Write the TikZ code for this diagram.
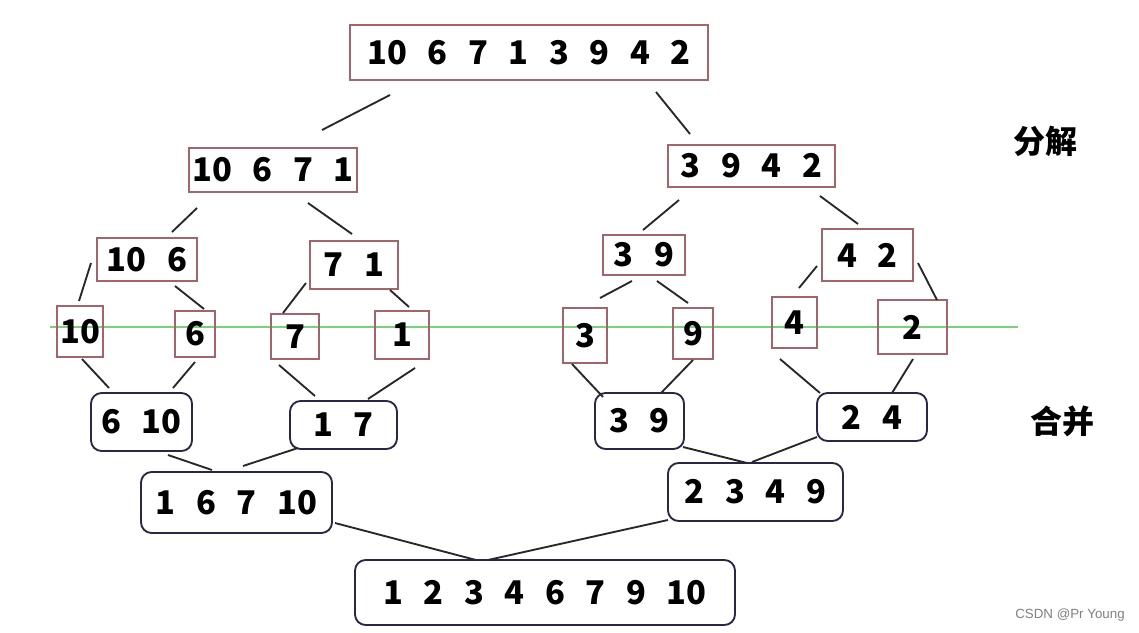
\documentclass[tikz,border=0pt]{standalone}
\usepackage{fontspec}
\setmainfont{Noto Sans CJK SC}
\newfontfamily\numfont{Noto Sans CJK SC}[WordSpace=2.75]
\newfontfamily\markfont{Liberation Sans}
\definecolor{splitc}{RGB}{165,100,105}
\definecolor{mergec}{RGB}{40,40,70}
\definecolor{linec}{RGB}{40,40,40}
\definecolor{greenc}{RGB}{120,210,120}
\newcommand\lnk[6]{\draw[link] ([shift={(#2,#3)}]#1.center) -- ([shift={(#5,#6)}]#4.center);}
\begin{document}
\begin{tikzpicture}[x=0.75pt,y=-0.75pt,
  splitbox/.style={draw=splitc,line width=1.3pt,inner sep=0pt,font=\numfont\bfseries\fontsize{24.5}{28}\selectfont},
  mergebox/.style={draw=mergec,line width=1.4pt,rounded corners=8pt,inner sep=0pt,font=\numfont\bfseries\fontsize{24.5}{28}\selectfont},
  link/.style={draw=linec,line width=1.4pt},
  cjklabel/.style={font=\bfseries\fontsize{24}{28}\selectfont,inner sep=0pt}]
\useasboundingbox (0,0) rectangle (1139,632);
\fill[white] (0,0) rectangle (1139,632);
% green line
\draw[greenc,line width=1.3pt] (50,327) -- (1018,327);
% split boxes
\node[splitbox,minimum width=268.5pt,minimum height=41.25pt] (top) at (529,52.5) {10 6 7 1 3 9 4 2};
\node[splitbox,minimum width=126pt,minimum height=33pt] (L) at (273,170) {10 6 7 1};
\node[splitbox,minimum width=125.25pt,minimum height=31.5pt] (R) at (751.5,166) {3 9 4 2};
\node[splitbox,minimum width=75pt,minimum height=32.25pt] (LL) at (147,259.5) {10 6};
\node[splitbox,minimum width=66pt,minimum height=36pt] (LR) at (354,265) {7 1};
\node[splitbox,minimum width=61.5pt,minimum height=30pt] (RL) at (644,255) {3 9};
\node[splitbox,minimum width=68.25pt,minimum height=39pt] (RR) at (867.5,255) {4 2};
\node[splitbox,minimum width=34.5pt,minimum height=38.25pt] (a) at (80,331.5) {10};
\node[splitbox,minimum width=30pt,minimum height=34.5pt] (b) at (195,334) {6};
\node[splitbox,minimum width=36pt,minimum height=33.75pt] (c) at (295,336.5) {7};
\node[splitbox,minimum width=40.5pt,minimum height=36pt] (d) at (402,335) {1};
\node[splitbox,minimum width=33pt,minimum height=41.25pt] (e) at (585,335.5) {3};
\node[splitbox,minimum width=30pt,minimum height=38.25pt] (f) at (693,333.5) {9};
\node[splitbox,minimum width=33.75pt,minimum height=38.25pt] (g) at (794.5,322.5) {4};
\node[splitbox,minimum width=51.75pt,minimum height=40.5pt] (h) at (912.5,327) {2};
% merge boxes
\node[mergebox,minimum width=75.75pt,minimum height=43.5pt] (m1) at (141.5,422) {6 10};
\node[mergebox,minimum width=80.25pt,minimum height=36pt] (m2) at (343.5,425) {1 7};
\node[mergebox,minimum width=66.75pt,minimum height=42pt] (m3) at (639.5,421) {3 9};
\node[mergebox,minimum width=82.5pt,minimum height=36pt] (m4) at (872,417) {2 4};
\node[mergebox,minimum width=143.25pt,minimum height=45.75pt] (n1) at (236.5,502.5) {1 6 7 10};
\node[mergebox,minimum width=131.25pt,minimum height=43.5pt] (n2) at (755.5,492) {2 3 4 9};
\node[mergebox,minimum width=285pt,minimum height=48.75pt] (fin) at (545,592.5) {1 2 3 4 6 7 9 10};
% labels
\node[cjklabel] (lsplit) at (1045,141) {分解};
\node[cjklabel] (lmerge) at (1062.5,421.5) {合并};
\node[font=\markfont\fontsize{10}{12}\selectfont,text=gray,inner sep=0pt] (wm) at (1070,615) {CSDN @Pr Young};
% connectors
\lnk{top}{-139}{42.5}{L}{49}{-40}
\lnk{top}{127}{39.5}{R}{-61.5}{-32}
\lnk{L}{-76}{38}{LL}{25}{-27.5}
\lnk{L}{35}{33}{LR}{-2}{-31}
\lnk{R}{-72.5}{34}{RL}{-1}{-25}
\lnk{R}{68.5}{30}{RR}{-9.5}{-31}
\lnk{LL}{-56}{3.5}{a}{-1}{-30.5}
\lnk{LL}{28}{26.5}{b}{9}{-25}
\lnk{LR}{-48}{18}{c}{-12}{-23.5}
\lnk{LR}{36}{25}{d}{7}{-28}
\lnk{RL}{-12}{26}{e}{15}{-37.5}
\lnk{RL}{13}{26}{f}{-5}{-30.5}
\lnk{RR}{-50.5}{11}{g}{4.5}{-34.5}
\lnk{RR}{50.5}{8}{h}{24.5}{-27}
\lnk{a}{2}{27.5}{m1}{-32.5}{-34}
\lnk{b}{0}{28}{m1}{31.5}{-34}
\lnk{c}{-16}{28.5}{m2}{-28.5}{-29}
\lnk{d}{13}{33}{m2}{24.5}{-26}
\lnk{e}{-13}{28.5}{m3}{-36.5}{-24}
\lnk{f}{0}{26.5}{m3}{21.5}{-28}
\lnk{g}{-14.5}{36.5}{m4}{-52}{-24}
\lnk{h}{0.5}{32}{m4}{20}{-24}
\lnk{m1}{26.5}{33}{n1}{-24.5}{-32.5}
\lnk{m2}{-45.5}{23}{n1}{6.5}{-36.5}
\lnk{m3}{43.5}{26}{n2}{-8.5}{-29}
\lnk{m4}{-55}{20}{n2}{-3.5}{-30}
\lnk{n1}{98.5}{20.5}{fin}{-69}{-32.5}
\lnk{n2}{-87.5}{28}{fin}{-57}{-32.5}
\end{tikzpicture}
\end{document}
